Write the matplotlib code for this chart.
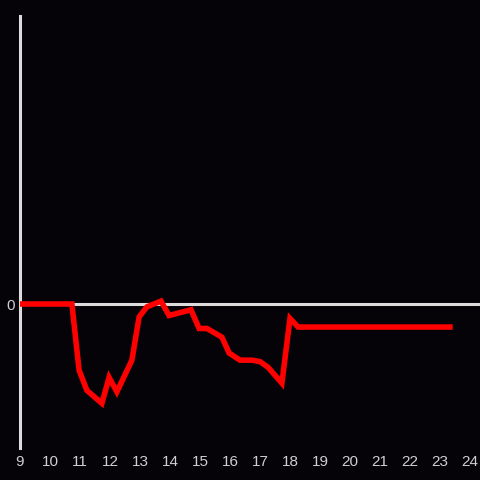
import numpy as np
import matplotlib
matplotlib.use('Agg')
import matplotlib.pyplot as plt

# hour of day vs value (arbitrary units, 0 = baseline)
hours = [9.0, 10.73, 10.97, 11.23, 11.73, 11.97, 12.23, 12.73, 12.97, 13.23,
         13.7, 13.97, 14.7, 14.97, 15.23, 15.73, 15.97, 16.33, 16.73, 17.0,
         17.27, 17.73, 18.0, 18.27, 23.33]
values = [0.0, 0.0, -0.46, -0.60, -0.69, -0.51, -0.61, -0.39, -0.09, -0.02,
          0.02, -0.08, -0.04, -0.17, -0.17, -0.23, -0.34, -0.39, -0.39, -0.40,
          -0.44, -0.55, -0.10, -0.16, -0.16]
xticks = list(range(9, 25))
yticks = [0]

bg = '#050308'
grey = '#dcdcdc'

plt.rcParams['font.family'] = ['Liberation Sans', 'DejaVu Sans']
fig = plt.figure(figsize=(4.8, 4.8), dpi=100, facecolor=bg)
ax = fig.add_axes([20/480, 32/480, 460/480, 432/480], facecolor=bg)

ax.axhline(0, color=grey, lw=2.2, zorder=1)
ax.plot(hours, values, color='#ff0000', lw=4.0, solid_joinstyle='miter', zorder=3)

ax.set_xlim(9, 9 + 460/30)
ax.set_ylim(-1, 2)
ax.set_xticks(xticks)
ax.set_yticks(yticks)
ax.tick_params(length=0, colors='#cfcfcf', labelsize=11)
ax.tick_params(axis='x', pad=5)
ax.tick_params(axis='y', pad=4)

for s in ['top', 'right', 'bottom']:
    ax.spines[s].set_visible(False)
ax.spines['left'].set_color(grey)
ax.spines['left'].set_linewidth(2.2)

fig.savefig('out.png', dpi=100, facecolor=bg)
